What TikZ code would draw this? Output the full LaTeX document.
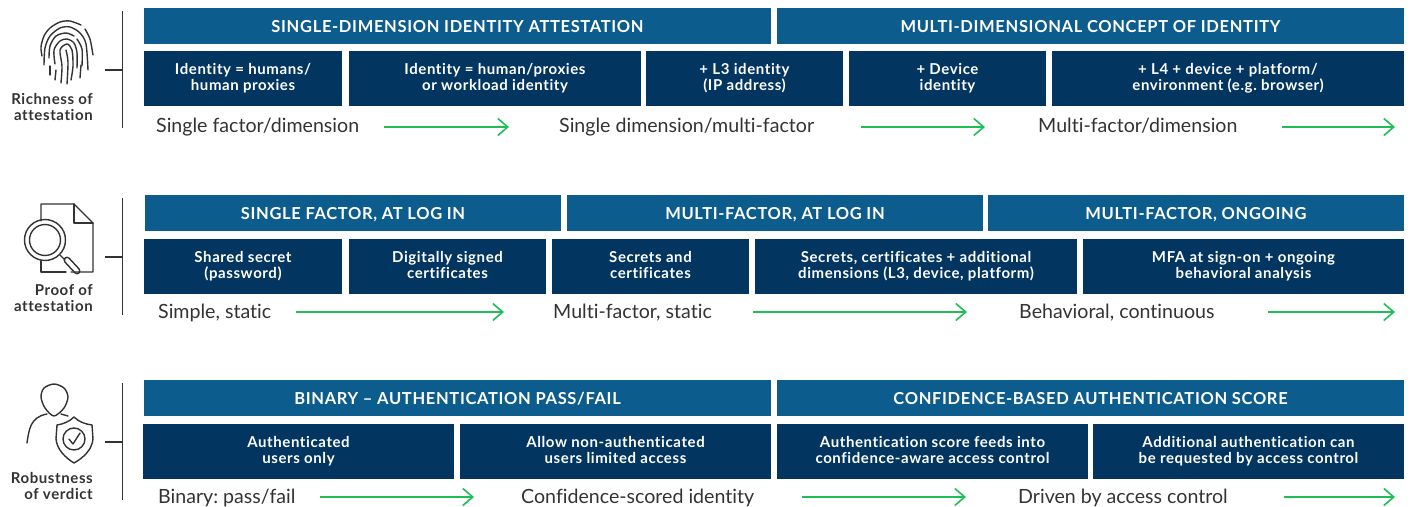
\documentclass[tikz,border=0pt]{standalone}
\usepackage{fontspec}
\setmainfont[Ligatures=NoCommon]{Lato}
\newfontfamily\trackfont[LetterSpace=4,Ligatures=NoCommon]{Lato}
\usetikzlibrary{arrows.meta,positioning}

\definecolor{hdrblue}{HTML}{0D5C8E}
\definecolor{subnavy}{HTML}{023660}
\definecolor{flowgreen}{HTML}{1FBF55}
\definecolor{inkgray}{HTML}{333333}

\tikzset{
  hdrbox/.style={fill=hdrblue,text=white,font=\fontsize{16.5}{18}\trackfont\bfseries,minimum height=36pt,text height=13pt,text depth=0pt,inner sep=0pt,outer sep=0pt,align=center},
  subbox/.style={fill=subnavy,text=white,font=\fontsize{15}{16}\trackfont\bfseries,minimum height=55pt,text height=27pt,text depth=4pt,inner sep=0pt,outer sep=0pt,align=center},
  flowtext/.style={text=inkgray,font=\fontsize{19.6}{21}\selectfont,anchor=base west,inner sep=0pt},
  flowarrow/.style={draw=flowgreen,line width=1.6pt,-{Straight Barb[length=10pt,width=17pt,line width=1.6pt]}},
  sidetext/.style={text=inkgray,font=\fontsize{15}{15.5}\trackfont\bfseries,align=right,anchor=base east,inner sep=0pt},
  rail/.style={draw=inkgray,line width=1.5pt},
  icon/.style={draw=inkgray,line width=1.4pt,line cap=round,line join=round,fill=none}
}

\begin{document}
\frenchspacing
\begin{tikzpicture}[x=1pt,y=-1pt,node distance=6pt]
  \useasboundingbox (0,0) rectangle (1410,506);

  % first row
  \node[hdrbox, minimum width=627pt, anchor=north west] (h1a) at (144,8) {SINGLE-DIMENSION IDENTITY ATTESTATION};
  \node[hdrbox, minimum width=627pt, right=of h1a]      (h1b) {MULTI-DIMENSIONAL CONCEPT OF IDENTITY};

  \node[subbox, minimum width=198pt, anchor=north west] (s1a) at (144,51) {Identity = humans/\\human proxies};
  \node[subbox, minimum width=292pt, right=7pt of s1a]  (s1b) {Identity = human/proxies\\or workload identity};
  \node[subbox, minimum width=197pt, right=5pt of s1b]  (s1c) {+ L3 identity\\(IP address)};
  \node[subbox, minimum width=197pt, right=of s1c]      (s1d) {+ Device\\identity};
  \node[subbox, minimum width=352pt, right=of s1d]      (s1e) {+ L4 + device + platform/\\environment (e.g. browser)};

  \node[flowtext] (t1a) at (156,132)  {Single factor/dimension};
  \node[flowtext] (t1b) at (559,132)  {Single dimension/multi-factor};
  \node[flowtext] (t1c) at (1038,132) {Multi-factor/dimension};

  \coordinate (a1a) at (384,127);  \coordinate (b1a) at (509,127);
  \coordinate (a1b) at (861,127);  \coordinate (b1b) at (985,127);
  \coordinate (a1c) at (1282,127); \coordinate (b1c) at (1395,127);
  \draw[flowarrow] (a1a) -- (b1a);
  \draw[flowarrow] (a1b) -- (b1b);
  \draw[flowarrow] (a1c) -- (b1c);

  % second row
  \node[hdrbox, minimum width=416pt, anchor=north west] (h2a) at (145,195) {SINGLE FACTOR, AT LOG IN};
  \node[hdrbox, minimum width=416pt, right=of h2a]      (h2b) {MULTI-FACTOR, AT LOG IN};
  \node[hdrbox, minimum width=416pt, right=5pt of h2b]  (h2c) {MULTI-FACTOR, ONGOING};

  \node[subbox, minimum width=198pt, anchor=north west] (s2a) at (144,239) {Shared secret\\(password)};
  \node[subbox, minimum width=197pt, right=7pt of s2a]  (s2b) {Digitally signed\\certificates};
  \node[subbox, minimum width=197pt, right=of s2b]      (s2c) {Secrets and\\certificates};
  \node[subbox, minimum width=322pt, right=of s2c]      (s2d) {Secrets, certificates + additional\\dimensions (L3, device, platform)};
  \node[subbox, minimum width=321pt, right=of s2d]      (s2e) {MFA at sign-on + ongoing\\behavioral analysis};

  \node[flowtext] (t2a) at (158,318)  {Simple, static};
  \node[flowtext] (t2b) at (553,318)  {Multi-factor, static};
  \node[flowtext] (t2c) at (1019,318) {Behavioral, continuous};

  \coordinate (a2a) at (296,312);  \coordinate (b2a) at (504,312);
  \coordinate (a2b) at (753,312);  \coordinate (b2b) at (967,312);
  \coordinate (a2c) at (1268,312); \coordinate (b2c) at (1395,312);
  \draw[flowarrow] (a2a) -- (b2a);
  \draw[flowarrow] (a2b) -- (b2b);
  \draw[flowarrow] (a2c) -- (b2c);

  % third row
  \node[hdrbox, minimum width=627pt, anchor=north west] (h3a) at (144,380) {BINARY – AUTHENTICATION PASS/FAIL};
  \node[hdrbox, minimum width=627pt, right=of h3a]      (h3b) {CONFIDENCE-BASED AUTHENTICATION SCORE};

  \node[subbox, minimum width=311pt, anchor=north west] (s3a) at (143,424) {Authenticated\\users only};
  \node[subbox, minimum width=311pt, right=of s3a]      (s3b) {Allow non-authenticated\\users limited access};
  \node[subbox, minimum width=311pt, right=of s3b]      (s3c) {Authentication score feeds into\\confidence-aware access control};
  \node[subbox, minimum width=311pt, right=5pt of s3c]  (s3d) {Additional authentication can\\be requested by access control};

  \node[flowtext] (t3a) at (158,503)  {Binary: pass/fail};
  \node[flowtext] (t3b) at (521,503)  {Confidence-scored identity};
  \node[flowtext] (t3c) at (1018,503) {Driven by access control};

  \coordinate (a3a) at (320,497);  \coordinate (b3a) at (474,497);
  \coordinate (a3b) at (802,497);  \coordinate (b3b) at (966,497);
  \coordinate (a3c) at (1284,497); \coordinate (b3c) at (1395,497);
  \draw[flowarrow] (a3a) -- (b3a);
  \draw[flowarrow] (a3b) -- (b3b);
  \draw[flowarrow] (a3c) -- (b3c);

  % side labels and rails
  \node[sidetext] (l1) at (93,120) {Richness of\\attestation};
  \node[sidetext] (l2) at (93,311) {Proof of\\attestation};
  \node[sidetext] (l3) at (93,499) {Robustness\\of verdict};

  \draw[rail] (122.5,11) -- (122.5,128) (105,70) -- (122.5,70);
  \draw[rail] (122.5,198) -- (122.5,315) (105,257) -- (122.5,257);
  \draw[rail] (122.5,383) -- (122.5,500) (105,442) -- (122.5,442);

  % fingerprint
  \begin{scope}[icon]
    \draw plot[smooth] coordinates {(42,56) (41,47) (44,36) (50,28) (60,22) (70,21) (81,25)};
    \draw plot[smooth] coordinates {(85,29) (90,39) (93,55)};
    \draw plot[smooth] coordinates {(44,65) (45,48) (50,36) (60,28) (70,27) (80,33) (86,44) (88,70)};
    \draw plot[smooth] coordinates {(49,58) (50,46) (56,36) (66,33) (74,36)};
    \draw plot[smooth] coordinates {(77,39) (82,49) (82,66)};
    \draw plot[smooth] coordinates {(50,66) (50,75)};
    \draw plot[smooth] coordinates {(55,64) (54,50) (60,41) (67,39) (74,43) (77,53) (77,68)};
    \draw plot[smooth] coordinates {(56,70) (55,80)};
    \draw plot[smooth] coordinates {(61,83) (62,66) (60,50) (67,44) (72,50) (73,66) (71,80)};
    \draw plot[smooth] coordinates {(66,50) (68,62) (67,84)};
    \draw (81,65) -- (80,78);
  \end{scope}

  % document and lens
  \begin{scope}[icon]
    \draw (41,221) -- (41,204) -- (74,204) -- (93,223) -- (93,272) -- (71,272);
    \draw (74,204) -- (74,223) -- (93,223);
    \draw (41,261) -- (41,272) -- (66,272);
    \draw (45,240) circle (20.5);
    \draw (45,240) circle (15.5);
    \draw (60,255) -- (65,260);
    \draw[rounded corners=3pt] (63,260) -- (67,256) -- (81,271) -- (77,275) -- cycle;
  \end{scope}

  % person and shield
  \begin{scope}[icon]
    \draw plot[smooth cycle] coordinates {(41,397) (44,388) (54,384) (64,388) (68,397) (64,408) (54,416) (45,408)};
    \draw (27,443) .. controls (29,430) and (30,417) .. (47,414);
    \draw (61,414) -- (68,416);
    \draw (74,417) .. controls (69,422) and (63,424) .. (57,425) -- (56,439) .. controls (57,450) and (66,458) .. (74,463) .. controls (83,458) and (92,450) .. (93,439) -- (92,425) .. controls (85,424) and (79,422) .. (74,417) -- cycle;
    \draw (74,439) circle (11);
    \draw (69,439) -- (73,444) -- (80,433);
  \end{scope}
\end{tikzpicture}
\end{document}
